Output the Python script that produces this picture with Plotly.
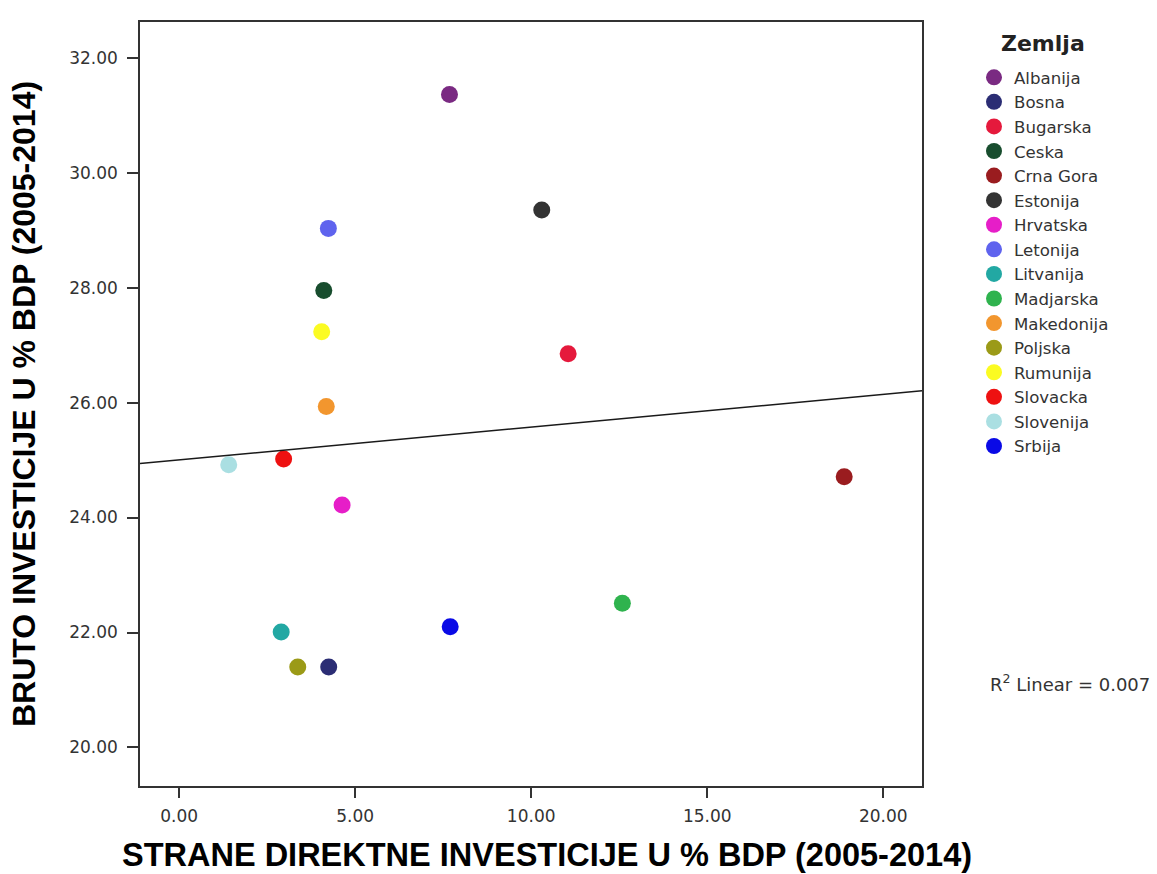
import numpy as np
import plotly.graph_objects as go

# Countries, foreign direct investment (% GDP) and gross investment (% GDP), 2005-2014 averages
countries = ["Albanija", "Bosna", "Bugarska", "Ceska", "Crna Gora", "Estonija",
             "Hrvatska", "Letonija", "Litvanija", "Madjarska", "Makedonija",
             "Poljska", "Rumunija", "Slovacka", "Slovenija", "Srbija"]
fdi = [7.68, 4.25, 11.05, 4.11, 18.89, 10.30, 4.63, 4.24, 2.90, 12.59, 4.18,
       3.37, 4.05, 2.97, 1.41, 7.70]
gross_inv = [31.36, 21.40, 26.85, 27.95, 24.71, 29.35, 24.22, 29.03, 22.01,
             22.51, 25.93, 21.40, 27.23, 25.02, 24.92, 22.10]
colors = ["#7a2a82", "#2b2d74", "#e5193c", "#184d2e", "#9a1c1f", "#333333",
          "#e61ec8", "#5f63ee", "#22a8a3", "#2fb34e", "#f2962e", "#9b9a17",
          "#fbfb22", "#ee1111", "#aadfe2", "#0a0ae6"]

x_ticks = [0, 5, 10, 15, 20]
y_ticks = [20, 22, 24, 26, 28, 30, 32]
x_range = [-1.11, 21.10]
y_range = [19.33, 32.62]

x_title = "STRANE DIREKTNE INVESTICIJE U % BDP (2005-2014)"
y_title = "BRUTO INVESTICIJE U % BDP (2005-2014)"

# Linear fit and its R²
x_arr = np.array(fdi)
y_arr = np.array(gross_inv)
slope, intercept = np.polyfit(x_arr, y_arr, 1)
r2 = np.corrcoef(x_arr, y_arr)[0, 1] ** 2

W, H = 1157, 874
M_L, M_R, M_T, M_B = 140, 235, 22, 88
plot_w = W - M_L - M_R
plot_h = H - M_T - M_B


def px_x(px):
    """Horizontal page pixel -> paper fraction."""
    return (px - M_L) / plot_w


def px_y(px):
    """Vertical page pixel (from top) -> paper fraction."""
    return (H - M_B - px) / plot_h


fig = go.Figure()

for name, xv, yv, col in zip(countries, fdi, gross_inv, colors):
    fig.add_trace(go.Scatter(
        x=[xv], y=[yv], mode="markers", name=name, legendgroup=name,
        marker=dict(color=col, size=17, line=dict(width=0)),
    ))

fit_x = np.array(x_range)
fig.add_trace(go.Scatter(
    x=fit_x, y=intercept + slope * fit_x, mode="lines",
    line=dict(color="#1a1a1a", width=1.5), showlegend=False, hoverinfo="skip",
))

tick_font = dict(family="DejaVu Sans, sans-serif", size=17, color="#333333")
title_family = "Liberation Sans Narrow, Arial Narrow, Liberation Sans, Arial, sans-serif"

fig.update_layout(
    width=W, height=H,
    margin=dict(l=M_L, r=M_R, t=M_T, b=M_B),
    paper_bgcolor="white", plot_bgcolor="white",
    showlegend=True,
    legend=dict(
        font=dict(family="DejaVu Sans, sans-serif", size=16.6, color="#333333"),
        xref="container", yref="container",
        x=974 / W, y=1 - 60 / H, xanchor="left", yanchor="top",
        tracegroupgap=0, bgcolor="rgba(0,0,0,0)", maxheight=600,
    ),
    annotations=[
        dict(text="<b>Zemlja</b>", xref="paper", yref="paper",
             x=px_x(999), y=px_y(43), xanchor="left", yanchor="middle",
             showarrow=False,
             font=dict(family="DejaVu Sans, sans-serif", size=22, color="#222222")),
        dict(text=f"R<sup>2</sup> Linear = {r2:.3f}", xref="paper", yref="paper",
             x=px_x(988), y=px_y(683), xanchor="left", yanchor="middle",
             showarrow=False,
             font=dict(family="DejaVu Sans, sans-serif", size=18, color="#333333")),
        dict(text=f"<b>{x_title}</b>", xref="paper", yref="paper",
             x=px_x(547), y=px_y(855), xanchor="center", yanchor="middle",
             showarrow=False,
             font=dict(family=title_family, size=32.5, color="#000000")),
    ],
)

fig.update_xaxes(
    range=x_range, tickvals=x_ticks, tickformat=".2f",
    showgrid=False, zeroline=False,
    showline=True, linecolor="#333333", linewidth=1.5, mirror=True,
    ticks="outside", ticklen=10, tickcolor="#333333", tickwidth=1.5,
    tickfont=tick_font, ticklabelstandoff=4,
)
fig.update_yaxes(
    range=y_range, tickvals=y_ticks, tickformat=".2f",
    showgrid=False, zeroline=False,
    showline=True, linecolor="#333333", linewidth=1.5, mirror=True,
    ticks="outside", ticklen=11, tickcolor="#333333", tickwidth=1.5,
    tickfont=tick_font, ticklabelstandoff=6,
    title=dict(text=y_title,
               font=dict(family=title_family, size=32, color="#000000", weight="bold"),
               standoff=24),
)

fig.write_html("out.html")
